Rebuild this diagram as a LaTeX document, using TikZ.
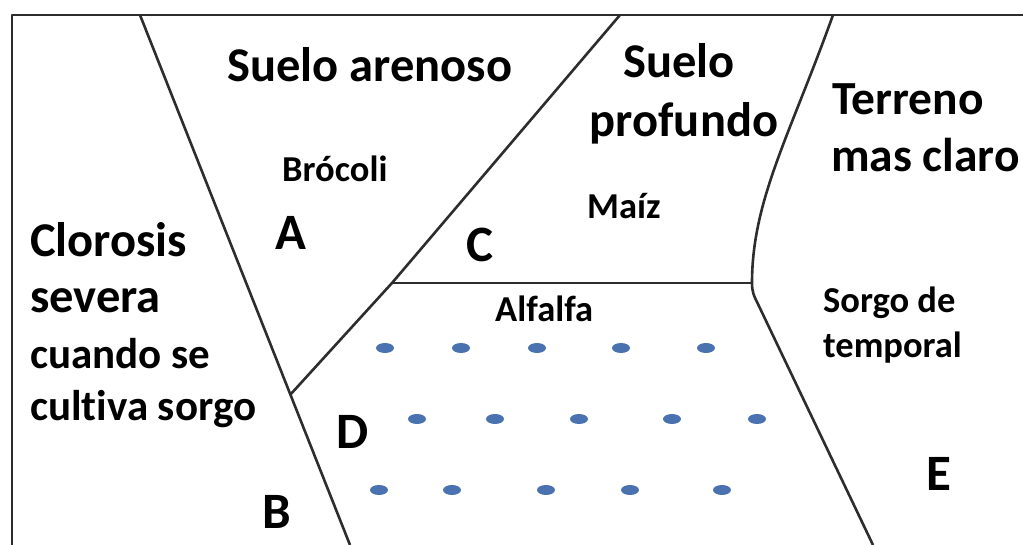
\documentclass[tikz,border=0pt]{standalone}
\usepackage{fontspec}
\setmainfont{Carlito}[Ligatures=NoCommon]
\definecolor{edge}{RGB}{45,45,45}
\definecolor{dotblue}{RGB}{74,114,176}
\tikzset{
  border/.style={draw=edge, line width=2.6pt, line join=round},
  bigtxt/.style={font=\fontsize{48.5}{56}\selectfont\bfseries, inner sep=0pt, anchor=base west},
  midtxt/.style={font=\fontsize{43}{50}\selectfont\bfseries, inner sep=0pt, anchor=base west},
  smalltxt/.style={font=\fontsize{36.5}{44}\selectfont\bfseries, inner sep=0pt, anchor=base west},
  lettertxt/.style={font=\fontsize{51}{60}\selectfont\bfseries, inner sep=0pt, anchor=base west},
  plant/.style={fill=dotblue, draw=none, ellipse, minimum width=18pt, minimum height=10pt, inner sep=0pt},
}
\usetikzlibrary{shapes.geometric}
\begin{document}
\begin{tikzpicture}[x=1pt,y=-1pt]
\useasboundingbox (0,0) rectangle (1023,545);
% frame
\coordinate (tr) at (1023,15);
\coordinate (tl) at (12,15);
\coordinate (bl) at (12,545);
\draw[border] (tr) -- (tl) -- (bl);
% divider lines
\coordinate (l1t) at (140,15);
\coordinate (l1b) at (350,545);
\draw[border] (l1t) -- (l1b);
\coordinate (l2t) at (620,15);
\coordinate (cD) at (392,283);
\coordinate (l2b) at (290,395);
\draw[border] (l2t) -- (cD) -- (l2b);
\coordinate (cE) at (752,283);
\draw[border] (cD) -- (cE);
\coordinate (l3t) at (833,15);
\coordinate (l3m) at (757,302);
\coordinate (l3b) at (873,545);
\draw[border] (l3t) .. controls (790,135) and (752,200) .. (cE)
  .. controls (752,292) and (754,296) .. (l3m) -- (l3b);
% texts
\node[bigtxt] (sa) at (227,82) {Suelo arenoso};
\node[bigtxt, anchor=base] (sp1) at (679,78) {Suelo};
\node[bigtxt, anchor=base] (sp2) at (684,137) {profundo};
\node[bigtxt, font=\fontsize{47.5}{56}\selectfont\bfseries] (tm1) at (832,115) {Terreno};
\node[bigtxt, font=\fontsize{47.5}{56}\selectfont\bfseries] (tm2) at (831,172) {mas claro};
\node[bigtxt] (cl1) at (30,257) {Clorosis};
\node[bigtxt] (cl2) at (30,313) {severa};
\node[midtxt] (cl3) at (30,368) {cuando se};
\node[midtxt] (cl4) at (30,420) {cultiva sorgo};
\node[smalltxt] (bro) at (282,182) {Brócoli};
\node[smalltxt] (mai) at (587,219) {Maíz};
\node[smalltxt] (alf) at (495,322) {Alfalfa};
\node[smalltxt] (so1) at (823,313) {Sorgo de};
\node[smalltxt] (so2) at (823,358) {temporal};
\node[lettertxt] (A) at (275,250) {A};
\node[lettertxt] (B) at (262,528) {B};
\node[lettertxt] (C) at (466,262) {C};
\node[lettertxt] (D) at (336,448) {D};
\node[lettertxt] (E) at (926,490) {E};
% alfalfa plants
\foreach \x [count=\i] in {385,461,537,621,706} \node[plant] (pa\i) at (\x,348) {};
\foreach \x [count=\i] in {417,495,579,672,757} \node[plant] (pb\i) at (\x,419) {};
\foreach \x [count=\i] in {379,452,546,630,722} \node[plant] (pc\i) at (\x,490) {};
\end{tikzpicture}
\end{document}
